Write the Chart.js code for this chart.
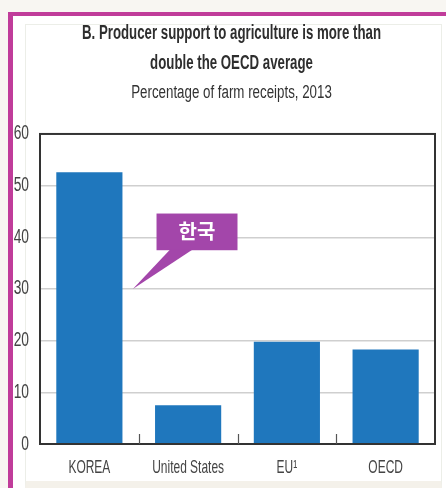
<!DOCTYPE html>
<html><head><meta charset="utf-8">
<script src="https://cdn.jsdelivr.net/npm/chart.js@4.4.1/dist/chart.umd.min.js"></script>
<style>
html,body{margin:0;padding:0;background:#f8f6f2;width:446px;height:488px;overflow:hidden;}
#frame{position:absolute;left:8px;top:12px;width:460px;height:500px;border-left:5px solid #c03c9a;border-top:4px solid #c03c9a;background:#fff;}
#panel{position:absolute;left:25px;top:24px;width:415px;height:456px;border:1px solid #eceee8;border-bottom:7px solid #f4f1ea;}
#wrap{position:absolute;left:0;top:0;width:446px;height:488px;}
</style></head>
<body>
<div id="frame"></div>
<div id="panel"></div>
<div id="wrap"><canvas id="c" width="446" height="488"></canvas></div>
<script>
const categories = ["KOREA", "United States", "EU¹", "OECD"];
const values = [52.6, 7.5, 19.8, 18.3];
const yTicks = [0, 10, 20, 30, 40, 50, 60];
const calloutText = "한국";

const FONT = "'Liberation Sans', Arial, sans-serif";

// condensed rendering of Chart.js text (reference uses a narrow typeface)
const canvas = document.getElementById('c');
const ctx0 = canvas.getContext('2d');
const origFillText = ctx0.fillText;
const squeeze = { '19.5px': [0.68, 10], '18px': [0.74, 10], '19px': [0.63, 0], '20px': [0.69, 0] };
ctx0.fillText = function (text, x, y, maxW) {
  const m = /(\d+(?:\.\d+)?px)/.exec(this.font);
  const s = m && !/CJK/.test(this.font) ? squeeze[m[1]] : null;
  if (!s) return origFillText.call(this, text, x, y, maxW);
  this.save();
  this.translate(x + s[1], y);
  this.scale(s[0], 1);
  origFillText.call(this, text, 0, 0);
  this.restore();
};

const boxPlugin = {
  id: 'boxPlugin',
  afterDatasetsDraw(chart) {
    const {ctx, chartArea: a, scales: {x, y}} = chart;
    ctx.save();
    ctx.strokeStyle = '#333';
    ctx.lineWidth = 2;
    ctx.strokeRect(a.left, a.top, a.right - a.left, a.bottom - a.top);
    ctx.lineWidth = 1.2;
    ctx.strokeStyle = '#555';
    for (let i = 0; i < categories.length - 1; i++) {
      const px = Math.round((x.getPixelForValue(i) + x.getPixelForValue(i + 1)) / 2) + 0.5;
      ctx.beginPath();
      ctx.moveTo(px, a.bottom);
      ctx.lineTo(px, a.bottom - 10);
      ctx.stroke();
    }
    const tx = x.getPixelForValue(0.44), ty = y.getPixelForValue(30);
    const bl = x.getPixelForValue(0.68), br = x.getPixelForValue(1.5);
    const bt = y.getPixelForValue(44.6), bb = y.getPixelForValue(37.5);
    ctx.fillStyle = '#a346aa';
    ctx.fillRect(bl, bt, br - bl, bb - bt);
    ctx.beginPath();
    ctx.moveTo(tx, ty);
    ctx.lineTo(x.getPixelForValue(0.82), bb - 1);
    ctx.lineTo(x.getPixelForValue(1.05), bb - 1);
    ctx.closePath();
    ctx.fill();
    ctx.fillStyle = '#fff';
    ctx.font = "bold 20px 'Noto Sans CJK KR', sans-serif";
    ctx.textAlign = 'center';
    ctx.textBaseline = 'middle';
    ctx.fillText(calloutText, (bl + br) / 2, (bt + bb) / 2);
    ctx.restore();
  }
};

new Chart(canvas, {
  type: 'bar',
  data: {
    labels: categories,
    datasets: [{
      data: values,
      backgroundColor: '#1f77bd',
      barPercentage: 0.67,
      categoryPercentage: 1.0
    }]
  },
  options: {
    responsive: false,
    animation: false,
    layout: { padding: { left: 8, right: 11, top: 19, bottom: 0 } },
    plugins: {
      legend: { display: false },
      tooltip: { enabled: false },
      title: {
        display: true,
        text: ["B. Producer support to agriculture is more than", "double the OECD average"],
        color: '#2e2e2e',
        font: { family: FONT, size: 19.5, weight: 'bold', lineHeight: 1.54 },
        padding: { top: 0, bottom: 0 }
      },
      subtitle: {
        display: true,
        text: "Percentage of farm receipts, 2013",
        color: '#333',
        font: { family: FONT, size: 18, weight: 'normal', lineHeight: 1.55 },
        padding: { top: 0, bottom: 27 }
      }
    },
    scales: {
      x: {
        grid: { display: false, drawTicks: false },
        border: { display: false },
        ticks: { color: '#444', font: { family: FONT, size: 19 }, padding: 12, maxRotation: 0, autoSkip: false },
        afterFit(s) { s.height = 44; }
      },
      y: {
        min: 0, max: 60,
        afterBuildTicks(s) { s.ticks = yTicks.map(v => ({ value: v })); },
        grid: { color: '#cfcfcf', lineWidth: 1.5, drawTicks: false },
        border: { display: false },
        ticks: { color: '#444', font: { family: FONT, size: 20 }, padding: 11 },
        afterFit(s) { s.width = 32; }
      }
    }
  },
  plugins: [boxPlugin]
});
</script>
</body></html>
